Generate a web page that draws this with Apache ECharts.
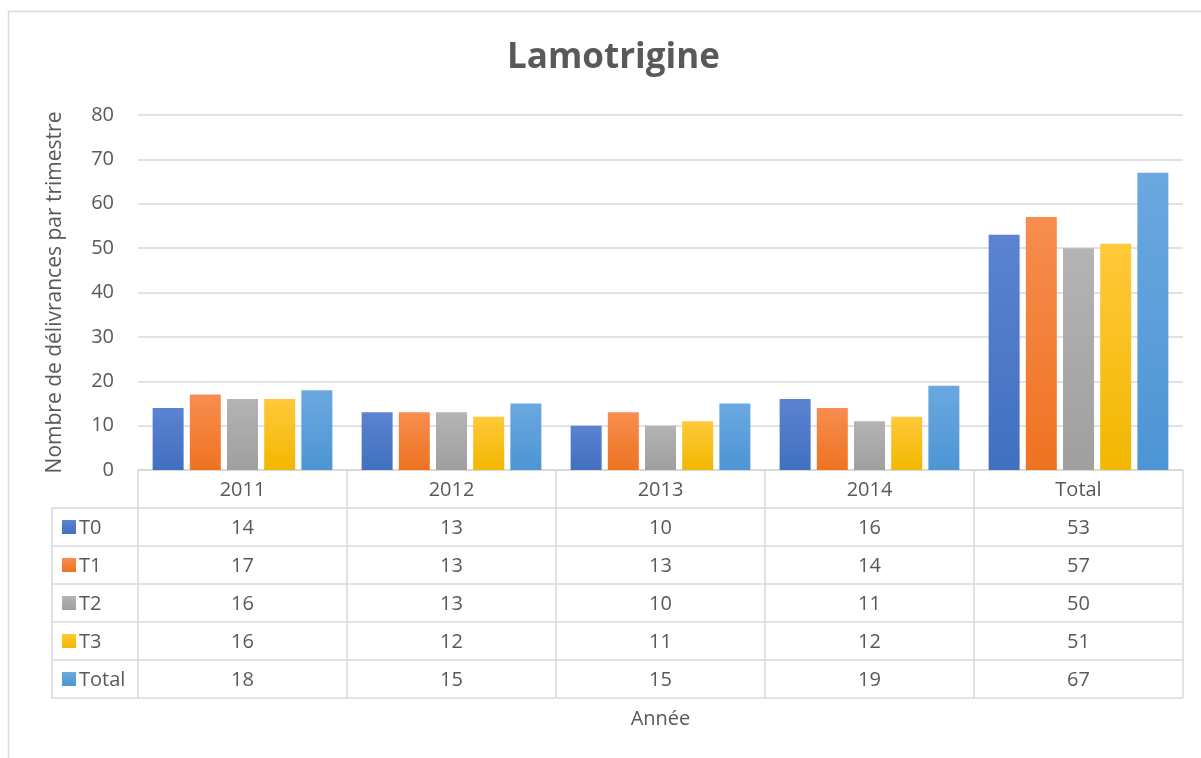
<!DOCTYPE html>
<html>
<head>
<meta charset="utf-8">
<script src="https://cdn.jsdelivr.net/npm/echarts@6/dist/echarts.min.js"></script>
<style>
  html, body { margin: 0; padding: 0; background: #fff; }
  #chart-container { width: 1201px; height: 758px; }
</style>
</head>
<body>
<div id="chart-container"></div>
<script>
var dom = document.getElementById("chart-container");
var myChart = echarts.init(dom, null, { renderer: "canvas" });

const categories = ["2011", "2012", "2013", "2014", "Total"];
const seriesNames = ["T0", "T1", "T2", "T3", "Total"];
const valuesT0 = [14, 13, 10, 16, 53];
const valuesT1 = [17, 13, 13, 14, 57];
const valuesT2 = [16, 13, 10, 11, 50];
const valuesT3 = [16, 12, 11, 12, 51];
const valuesTotal = [18, 15, 15, 19, 67];
const seriesValues = [valuesT0, valuesT1, valuesT2, valuesT3, valuesTotal];

// colours (top / bottom of the Excel-like gradient)
const colors = [
  ["#5B83D2", "#4170BE"],
  ["#F78D50", "#EE7320"],
  ["#B4B4B4", "#9F9F9F"],
  ["#FFC93A", "#F2B700"],
  ["#6BA8E0", "#4D95D4"],
];

const FONT = "Open Sans";
const TEXT = "#595959";
const LINE = "#D9D9D9";
const FS = 20;

function grad(c) {
  return new echarts.graphic.LinearGradient(0, 0, 0, 1, [
    { offset: 0, color: c[0] },
    { offset: 1, color: c[1] },
  ]);
}

var option = {
  animation: false,
  textStyle: { fontFamily: FONT },
  title: {
    text: "Lamotrigine",
    left: 502,
    top: 36,
    textStyle: { fontFamily: FONT, fontSize: 35, fontWeight: "bold", color: TEXT },
  },
  grid: { left: 138, right: 18, top: 115, bottom: 288 },
  xAxis: {
    type: "category",
    data: categories,
    axisLine: { show: true, lineStyle: { color: LINE, width: 1.5 } },
    axisTick: { show: false },
    axisLabel: { show: false },
  },
  yAxis: {
    type: "value",
    min: 0,
    max: 80,
    interval: 10,
    name: "Nombre de délivrances par trimestre",
    nameLocation: "middle",
    nameGap: 72,
    nameTextStyle: { fontFamily: FONT, fontSize: 21, color: TEXT },
    axisLine: { show: false },
    axisTick: { show: false },
    axisLabel: { fontFamily: FONT, fontSize: FS, color: TEXT, margin: 24 },
    splitLine: { lineStyle: { color: LINE, width: 1.5 } },
  },
  series: seriesNames.map((name, i) => ({
    name: name,
    type: "bar",
    data: seriesValues[i],
    barGap: "20%",
    barCategoryGap: "14%",
    itemStyle: {
      color: grad(colors[i]),
      shadowColor: "rgba(0,0,0,0.28)",
      shadowBlur: 5,
      shadowOffsetX: 1,
      shadowOffsetY: 1,
    },
  })),
};

myChart.setOption(option);

// data table under the plot, placed from the axis scales
function buildTable() {
  const centers = categories.map((c, i) => myChart.convertToPixel({ xAxisIndex: 0 }, i));
  const band = centers[1] - centers[0];
  const left = centers[0] - band / 2;
  const right = centers[centers.length - 1] + band / 2;
  const top = myChart.convertToPixel({ yAxisIndex: 0 }, 0);
  const rowH = 38;
  const keyLeft = 52;
  const nRows = seriesNames.length + 1;
  const bottom = top + rowH * nRows;
  const els = [];
  const ls = { stroke: LINE, lineWidth: 1.5 };

  // outer chart border
  els.push({
    type: "rect",
    shape: { x: 8.5, y: 11.5, width: 1250, height: 800 },
    style: { fill: null, stroke: LINE, lineWidth: 1.5 },
    silent: true,
  });

  for (let r = 0; r <= nRows; r++) {
    const y = top + r * rowH;
    els.push({
      type: "line",
      shape: { x1: r <= 0 ? left : keyLeft, y1: y, x2: right, y2: y },
      style: ls,
      silent: true,
    });
  }
  for (let c = 0; c <= categories.length; c++) {
    const x = left + c * band;
    els.push({ type: "line", shape: { x1: x, y1: top, x2: x, y2: bottom }, style: ls, silent: true });
  }
  els.push({ type: "line", shape: { x1: keyLeft, y1: top + rowH, x2: keyLeft, y2: bottom }, style: ls, silent: true });

  const txt = (x, y, s, align) => ({
    type: "text",
    x: x,
    y: y,
    silent: true,
    style: {
      text: s,
      fontFamily: FONT,
      fontSize: FS,
      fill: TEXT,
      align: align || "center",
      verticalAlign: "middle",
    },
  });

  categories.forEach((c, i) => els.push(txt(centers[i], top + rowH / 2 + 1, c)));

  seriesNames.forEach((name, r) => {
    const yc = top + rowH * (r + 1) + rowH / 2;
    els.push({
      type: "rect",
      shape: { x: 62, y: yc - 7, width: 14, height: 14 },
      style: { fill: grad(colors[r]) },
      silent: true,
    });
    els.push(txt(79, yc + 1, name, "left"));
    seriesValues[r].forEach((v, i) => els.push(txt(centers[i], yc + 1, String(v))));
  });

  els.push(txt((left + right) / 2, bottom + 21, "Année"));

  myChart.setOption({ graphic: els });
}

buildTable();

window.addEventListener("resize", myChart.resize);
</script>
</body>
</html>
